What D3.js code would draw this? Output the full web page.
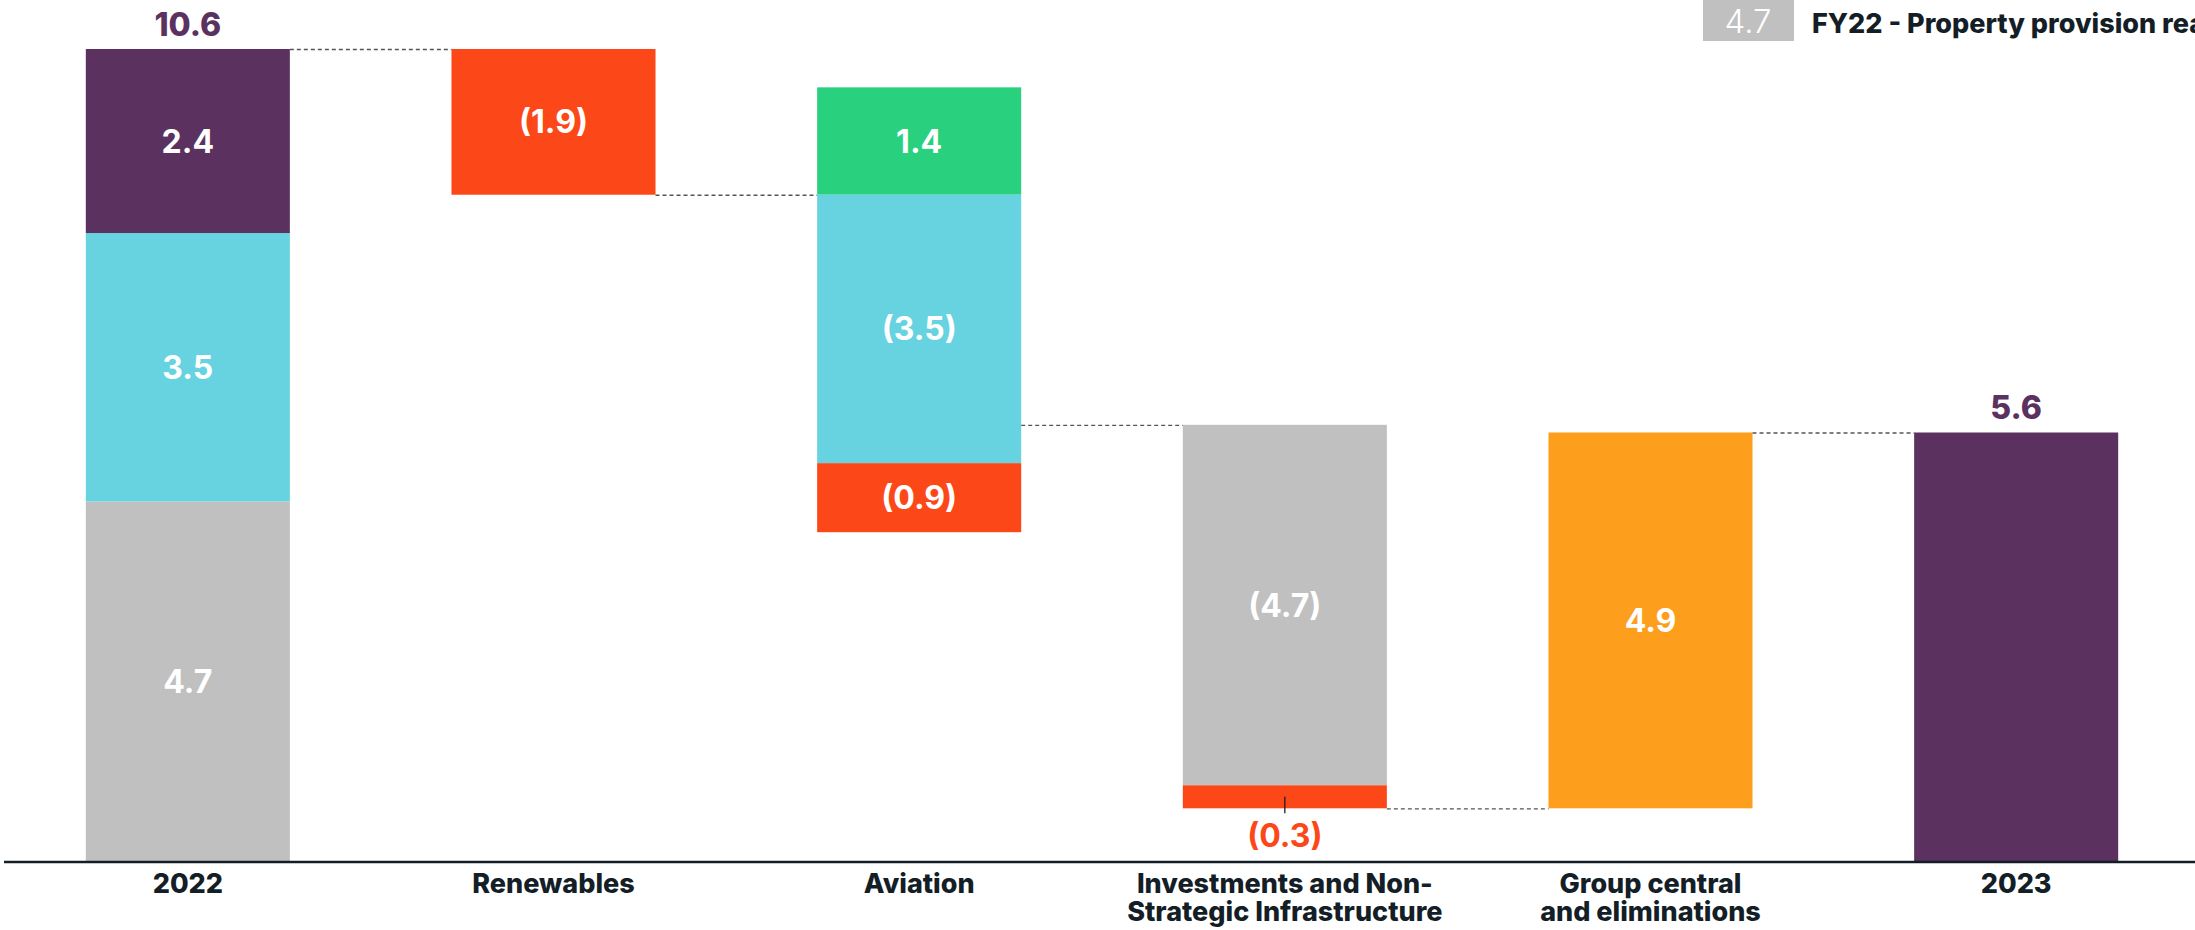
<!DOCTYPE html>
<html>
<head>
<meta charset="utf-8">
<script src="https://cdn.jsdelivr.net/npm/d3@7"></script>
<style>
  html, body { margin: 0; padding: 0; background: #ffffff; }
  svg { display: block; font-family: Inter, "Noto Sans", sans-serif; }
</style>
</head>
<body>
<svg id="chart" width="2195" height="930"></svg>
<script>
// Bridge categories and their axis label lines
const categories = [
  "2022",
  "Renewables",
  "Aviation",
  "Investments and Non-Strategic Infrastructure",
  "Group central and eliminations",
  "2023"
];
const categoryLines = [
  ["2022"],
  ["Renewables"],
  ["Aviation"],
  ["Investments and Non-", "Strategic Infrastructure"],
  ["Group central", "and eliminations"],
  ["2023"]
];
const categoryKind = ["total", "delta", "delta", "delta", "delta", "total"];

// Bar segments (one entry per coloured block)
const segCategory = [
  "2022", "2022", "2022",
  "Renewables",
  "Aviation", "Aviation", "Aviation",
  "Investments and Non-Strategic Infrastructure", "Investments and Non-Strategic Infrastructure",
  "Group central and eliminations",
  "2023"
];
const segValue = [4.7, 3.5, 2.4, -1.9, 1.4, -3.5, -0.9, -4.7, -0.3, 4.9, 5.6];
const segSeries = [
  "property", "aviationOneOff", "underlying",
  "decrease",
  "increase", "aviationOneOff", "decrease",
  "property", "decrease",
  "central",
  "underlying"
];

// Legend entry
const legendValue = 4.7;
const legendSeries = "property";
const legendText = "FY22 - Property provision reassessment";

const colours = {
  underlying: "#5B3160",
  aviationOneOff: "#67D3E0",
  property: "#C0C0C0",
  decrease: "#FC4818",
  increase: "#29D17F",
  central: "#FD9E1D"
};
const ink = "#141E27";

const fmt = v => v < 0 ? "(" + d3.format(".1f")(-v) + ")" : d3.format(".1f")(v);

// Build stacked waterfall geometry in data space
const segments = [];
const ends = [];
let running = 0;
categories.forEach((cat, ci) => {
  const start = categoryKind[ci] === "total" ? 0 : running;
  let up = start, down = start, net = start;
  segCategory.forEach((c, si) => {
    if (c !== cat) return;
    const v = segValue[si];
    let y0, y1;
    if (v >= 0) { y0 = up; y1 = up + v; up = y1; }
    else { y0 = down; y1 = down + v; down = y1; }
    net += v;
    segments.push({ cat, ci, value: v, series: segSeries[si], y0, y1, kind: categoryKind[ci] });
  });
  ends.push(net);
  running = net;
});

const svg = d3.select("#chart");

const x = d3.scaleBand()
  .domain(categories)
  .range([5, 2199])
  .paddingInner(0.442)
  .paddingOuter(0.221);

const yMax = d3.max(segments, d => Math.max(d.y0, d.y1));
const y = d3.scaleLinear().domain([0, yMax]).range([862, 49]);

// Bars
svg.append("g")
  .selectAll("rect")
  .data(segments)
  .join("rect")
  .attr("x", d => x(d.cat))
  .attr("width", x.bandwidth())
  .attr("y", d => y(Math.max(d.y0, d.y1)))
  .attr("height", d => Math.abs(y(d.y0) - y(d.y1)))
  .attr("fill", d => colours[d.series]);

// Connector lines between consecutive bars
const connectors = d3.range(categories.length - 1).map(i => ({
  x1: x(categories[i]) + x.bandwidth(),
  x2: x(categories[i + 1]),
  level: ends[i]
}));
svg.append("g")
  .selectAll("line")
  .data(connectors)
  .join("line")
  .attr("x1", d => d.x1)
  .attr("x2", d => d.x2)
  .attr("y1", d => y(d.level) + 0.5)
  .attr("y2", d => y(d.level) + 0.5)
  .attr("stroke", "#555555")
  .attr("stroke-width", 1.3)
  .attr("stroke-dasharray", "4,3");

// Segment labels: inside when the block is tall enough, otherwise below with a leader tick
const labelled = segments.filter(d => !(d.kind === "total" && segments.filter(s => s.cat === d.cat).length === 1));
const small = d => Math.abs(y(d.y0) - y(d.y1)) < 40;

svg.append("g")
  .selectAll("text")
  .data(labelled.filter(d => !small(d)))
  .join("text")
  .attr("x", d => x(d.cat) + x.bandwidth() / 2)
  .attr("y", d => (y(d.y0) + y(d.y1)) / 2)
  .attr("dy", "0.36em")
  .attr("text-anchor", "middle")
  .attr("fill", "#ffffff")
  .attr("font-size", 32)
  .attr("font-weight", 700)
  .text(d => fmt(d.value));

const outside = labelled.filter(d => small(d));
svg.append("g")
  .selectAll("line")
  .data(outside)
  .join("line")
  .attr("x1", d => x(d.cat) + x.bandwidth() / 2)
  .attr("x2", d => x(d.cat) + x.bandwidth() / 2)
  .attr("y1", d => (y(d.y0) + y(d.y1)) / 2)
  .attr("y2", d => y(Math.min(d.y0, d.y1)) + 5)
  .attr("stroke", ink)
  .attr("stroke-width", 1.3);
svg.append("g")
  .selectAll("text")
  .data(outside)
  .join("text")
  .attr("x", d => x(d.cat) + x.bandwidth() / 2)
  .attr("y", d => y(Math.min(d.y0, d.y1)) + 39)
  .attr("text-anchor", "middle")
  .attr("fill", d => colours[d.series])
  .attr("font-size", 32)
  .attr("font-weight", 700)
  .text(d => fmt(d.value));

// Totals above the total bars
const totals = categories
  .map((c, i) => ({ cat: c, value: ends[i], kind: categoryKind[i] }))
  .filter(d => d.kind === "total");
svg.append("g")
  .selectAll("text")
  .data(totals)
  .join("text")
  .attr("x", d => x(d.cat) + x.bandwidth() / 2)
  .attr("y", d => y(d.value) - 13)
  .attr("text-anchor", "middle")
  .attr("fill", colours.underlying)
  .attr("font-size", 32)
  .attr("font-weight", 800)
  .text(d => fmt(d.value));

// Category axis
const axis = svg.append("g")
  .attr("transform", `translate(0,${y(0)})`)
  .call(d3.axisBottom(x).tickSize(0).tickSizeOuter(0).tickFormat(""));
axis.select(".domain")
  .attr("stroke", ink)
  .attr("stroke-width", 2.5)
  .attr("d", "M4,0H2195");
axis.selectAll(".tick text").remove();
axis.selectAll(".tick")
  .append("text")
  .attr("text-anchor", "middle")
  .attr("fill", ink)
  .attr("font-size", 27)
  .attr("font-weight", 800)
  .attr("font-family", "Inter, sans-serif")
  .selectAll("tspan")
  .data(d => categoryLines[categories.indexOf(d)])
  .join("tspan")
  .attr("x", 0)
  .attr("y", (d, i) => 31 + i * 28)
  .text(d => d);

// Legend
const legend = svg.append("g");
legend.append("rect")
  .attr("x", 1703).attr("y", 0)
  .attr("width", 91).attr("height", 41)
  .attr("fill", colours[legendSeries]);
legend.append("text")
  .attr("x", 1748).attr("y", 33)
  .attr("text-anchor", "middle")
  .attr("fill", "#ffffff")
  .attr("font-size", 33)
  .attr("font-weight", 300)
  .text(d3.format(".1f")(legendValue));
legend.append("text")
  .attr("x", 1812).attr("y", 33)
  .attr("fill", ink)
  .attr("font-size", 27)
  .attr("font-weight", 800)
  .text(legendText);
</script>
</body>
</html>
